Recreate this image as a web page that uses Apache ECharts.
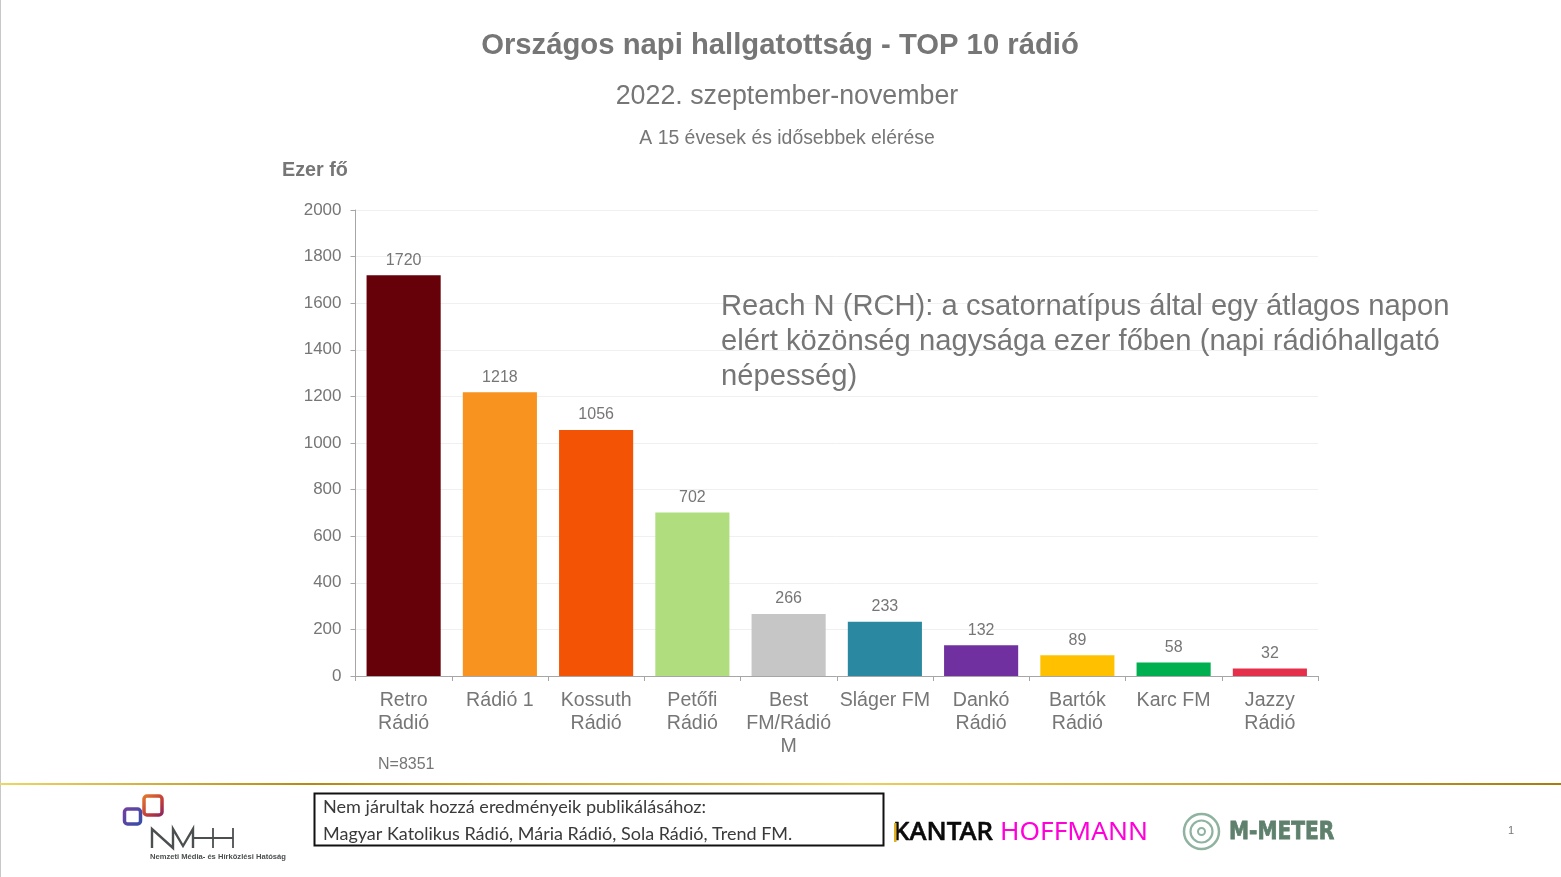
<!DOCTYPE html>
<html>
<head>
<meta charset="utf-8">
<title>Országos napi hallgatottság</title>
<script src="https://cdn.jsdelivr.net/npm/echarts@6/dist/echarts.min.js"></script>
<style>
  html, body { margin: 0; padding: 0; background: #fff; }
  #main { width: 1561px; height: 877px; }
</style>
</head>
<body>
<div id="main"></div>
<script>
var categories = ['Retro\nRádió', 'Rádió 1', 'Kossuth\nRádió', 'Petőfi\nRádió', 'Best\nFM/Rádió\nM', 'Sláger FM', 'Dankó\nRádió', 'Bartók\nRádió', 'Karc FM', 'Jazzy\nRádió'];
var reach = [1720, 1218, 1056, 702, 266, 233, 132, 89, 58, 32];
var barColors = ['#660009', '#F7931E', '#F25305', '#B0DD7E', '#C6C6C6', '#2A88A0', '#7030A0', '#FFC000', '#00B050', '#E5304B'];
var FONT = '"Liberation Sans", Arial, sans-serif';
var GREY = '#767676';
var LOGO_GREY = '#4C4F50';
var METER_GREEN = '#5E806C';
var METER_RING = '#8FB3A0';

function txt(x, y, text, size, fill, extra, el) {
  return Object.assign({
    type: 'text', x: x, y: y, z: 20, silent: true,
    style: Object.assign({ text: text, fontSize: size, fontFamily: FONT, fill: fill, textVerticalAlign: 'middle' }, extra || {})
  }, el || {});
}
function ring(r, width) {
  return { type: 'circle', z: 20, silent: true, shape: { cx: 1201.5, cy: 831.5, r: r }, style: { fill: 'none', stroke: METER_RING, lineWidth: width } };
}
function stroke(points, width) {
  return { type: 'polyline', z: 20, silent: true, shape: { points: points }, style: { fill: 'none', stroke: LOGO_GREY, lineWidth: width, lineJoin: 'miter' } };
}

var chart = echarts.init(document.getElementById('main'), null, { renderer: 'canvas' });
chart.setOption({
  animation: false,
  backgroundColor: '#fff',
  grid: { left: 355.5, right: 243, top: 210, bottom: 201, containLabel: false },
  xAxis: {
    type: 'category',
    data: categories,
    axisLine: { lineStyle: { color: '#A6A6A6', width: 1 } },
    axisTick: { show: true, length: 5, alignWithLabel: false, lineStyle: { color: '#A6A6A6' } },
    axisLabel: { interval: 0, color: GREY, fontFamily: FONT, fontSize: 19.6, lineHeight: 23, margin: 13 }
  },
  yAxis: {
    type: 'value', min: 0, max: 2000, interval: 200,
    axisLine: { show: true, lineStyle: { color: '#A6A6A6', width: 1 } },
    axisTick: { show: true, length: 5, lineStyle: { color: '#A6A6A6' } },
    axisLabel: { color: GREY, fontFamily: FONT, fontSize: 17, margin: 14, padding: [2, 0, 0, 0], formatter: function (v) { return String(v); } },
    splitLine: { lineStyle: { color: '#F0F0F0', width: 1 } }
  },
  series: [{
    type: 'bar',
    barWidth: '77%',
    data: reach.map(function (v, i) { return { value: v, itemStyle: { color: barColors[i] } }; }),
    label: { show: true, position: 'top', distance: 7, color: GREY, fontFamily: FONT, fontSize: 16 }
  }],
  graphic: [
    // slide border and gold rule
    { type: 'rect', shape: { x: 0, y: 0, width: 1, height: 877 }, style: { fill: '#C8C8C8' }, silent: true },
    { type: 'rect', shape: { x: 0, y: 783, width: 1561, height: 2 }, silent: true,
      style: { fill: new echarts.graphic.LinearGradient(0, 0, 1, 0, [
        { offset: 0, color: '#EFD566' }, { offset: 0.2, color: '#B58A12' },
        { offset: 0.55, color: '#EBCF60' }, { offset: 1, color: '#A87C0E' }
      ]) } },

    // titles
    txt(780, 46, 'Országos napi hallgatottság - TOP 10 rádió', 29.25, GREY, { fontWeight: 'bold', textAlign: 'center' }),
    txt(787, 97, '2022. szeptember-november', 26.8, GREY, { textAlign: 'center' }),
    txt(787, 139, 'A 15 évesek és idősebbek elérése', 19.4, GREY, { textAlign: 'center' }),
    txt(282, 171, 'Ezer fő', 19.8, GREY, { fontWeight: 'bold' }),

    // annotation
    txt(721, 307, 'Reach N (RCH): a csatornatípus által egy átlagos napon', 29.2, GREY),
    txt(721, 342, 'elért közönség nagysága ezer főben (napi rádióhallgató', 29.2, GREY),
    txt(721, 377, 'népesség)', 29.2, GREY),
    txt(378, 765, 'N=8351', 16, GREY),

    // note box
    { type: 'rect', z: 19, shape: { x: 314.5, y: 793.5, width: 569, height: 52 }, style: { fill: '#fff', stroke: '#111', lineWidth: 2 }, silent: true },
    txt(323, 807, 'Nem járultak hozzá eredményeik publikálásához:', 18.1, '#3A3A3A', { fontFamily: 'Lato, sans-serif' }),
    txt(323, 834, 'Magyar Katolikus Rádió, Mária Rádió, Sola Rádió, Trend FM.', 18, '#3A3A3A', { fontFamily: 'Lato, sans-serif' }),

    // NMHH logo
    { type: 'rect', z: 20, silent: true, shape: { x: 144, y: 796, width: 18, height: 19, r: 3 },
      style: { fill: 'none', lineWidth: 3.5, stroke: new echarts.graphic.LinearGradient(0, 0, 1, 1, [
        { offset: 0, color: '#E8822A' }, { offset: 0.6, color: '#C03A3A' }, { offset: 1, color: '#7A1F6A' }
      ]) } },
    { type: 'rect', z: 20, silent: true, shape: { x: 124.5, y: 809, width: 16, height: 15, r: 3 },
      style: { fill: 'none', lineWidth: 3.5, stroke: new echarts.graphic.LinearGradient(0, 0, 1, 1, [
        { offset: 0, color: '#7A3FA0' }, { offset: 1, color: '#2F4FA8' }
      ]) } },
    stroke([[152, 848], [152, 829], [173, 848], [173, 829], [183, 846], [193, 829], [193, 848]], 2.4),
    stroke([[193, 838], [233, 838]], 1.8),
    stroke([[213, 828], [213, 848]], 1.8),
    stroke([[233, 828], [233, 848]], 1.8),
    txt(150, 857, 'Nemzeti Média- és Hírközlési Hatóság', 7.6, LOGO_GREY, { fontWeight: 'bold' }),

    // Kantar Hoffmann logo
    txt(893, 833, 'KANTAR', 26, '#0A0A0A', { fontFamily: '"Noto Sans", sans-serif', fontWeight: 500, stroke: '#0A0A0A', lineWidth: 0.6 }),
    { type: 'rect', z: 21, shape: { x: 894, y: 823, width: 2.5, height: 19 }, style: { fill: '#E0B020' }, silent: true },
    txt(1000, 833, 'HOFFMANN', 26.3, '#FF00D8', { fontFamily: '"Noto Sans", sans-serif' }),

    // M-Meter logo
    ring(17.5, 2.5),
    ring(11, 2.2),
    ring(3.5, 2),
    txt(1229, 833, 'M-METER', 24, METER_GREEN, { fontFamily: '"DejaVu Sans", sans-serif', fontWeight: 'bold', stroke: METER_GREEN, lineWidth: 0.8 }, { scaleX: 0.84 }),

    txt(1508, 831, '1', 11, GREY)
  ]
});
</script>
</body>
</html>
